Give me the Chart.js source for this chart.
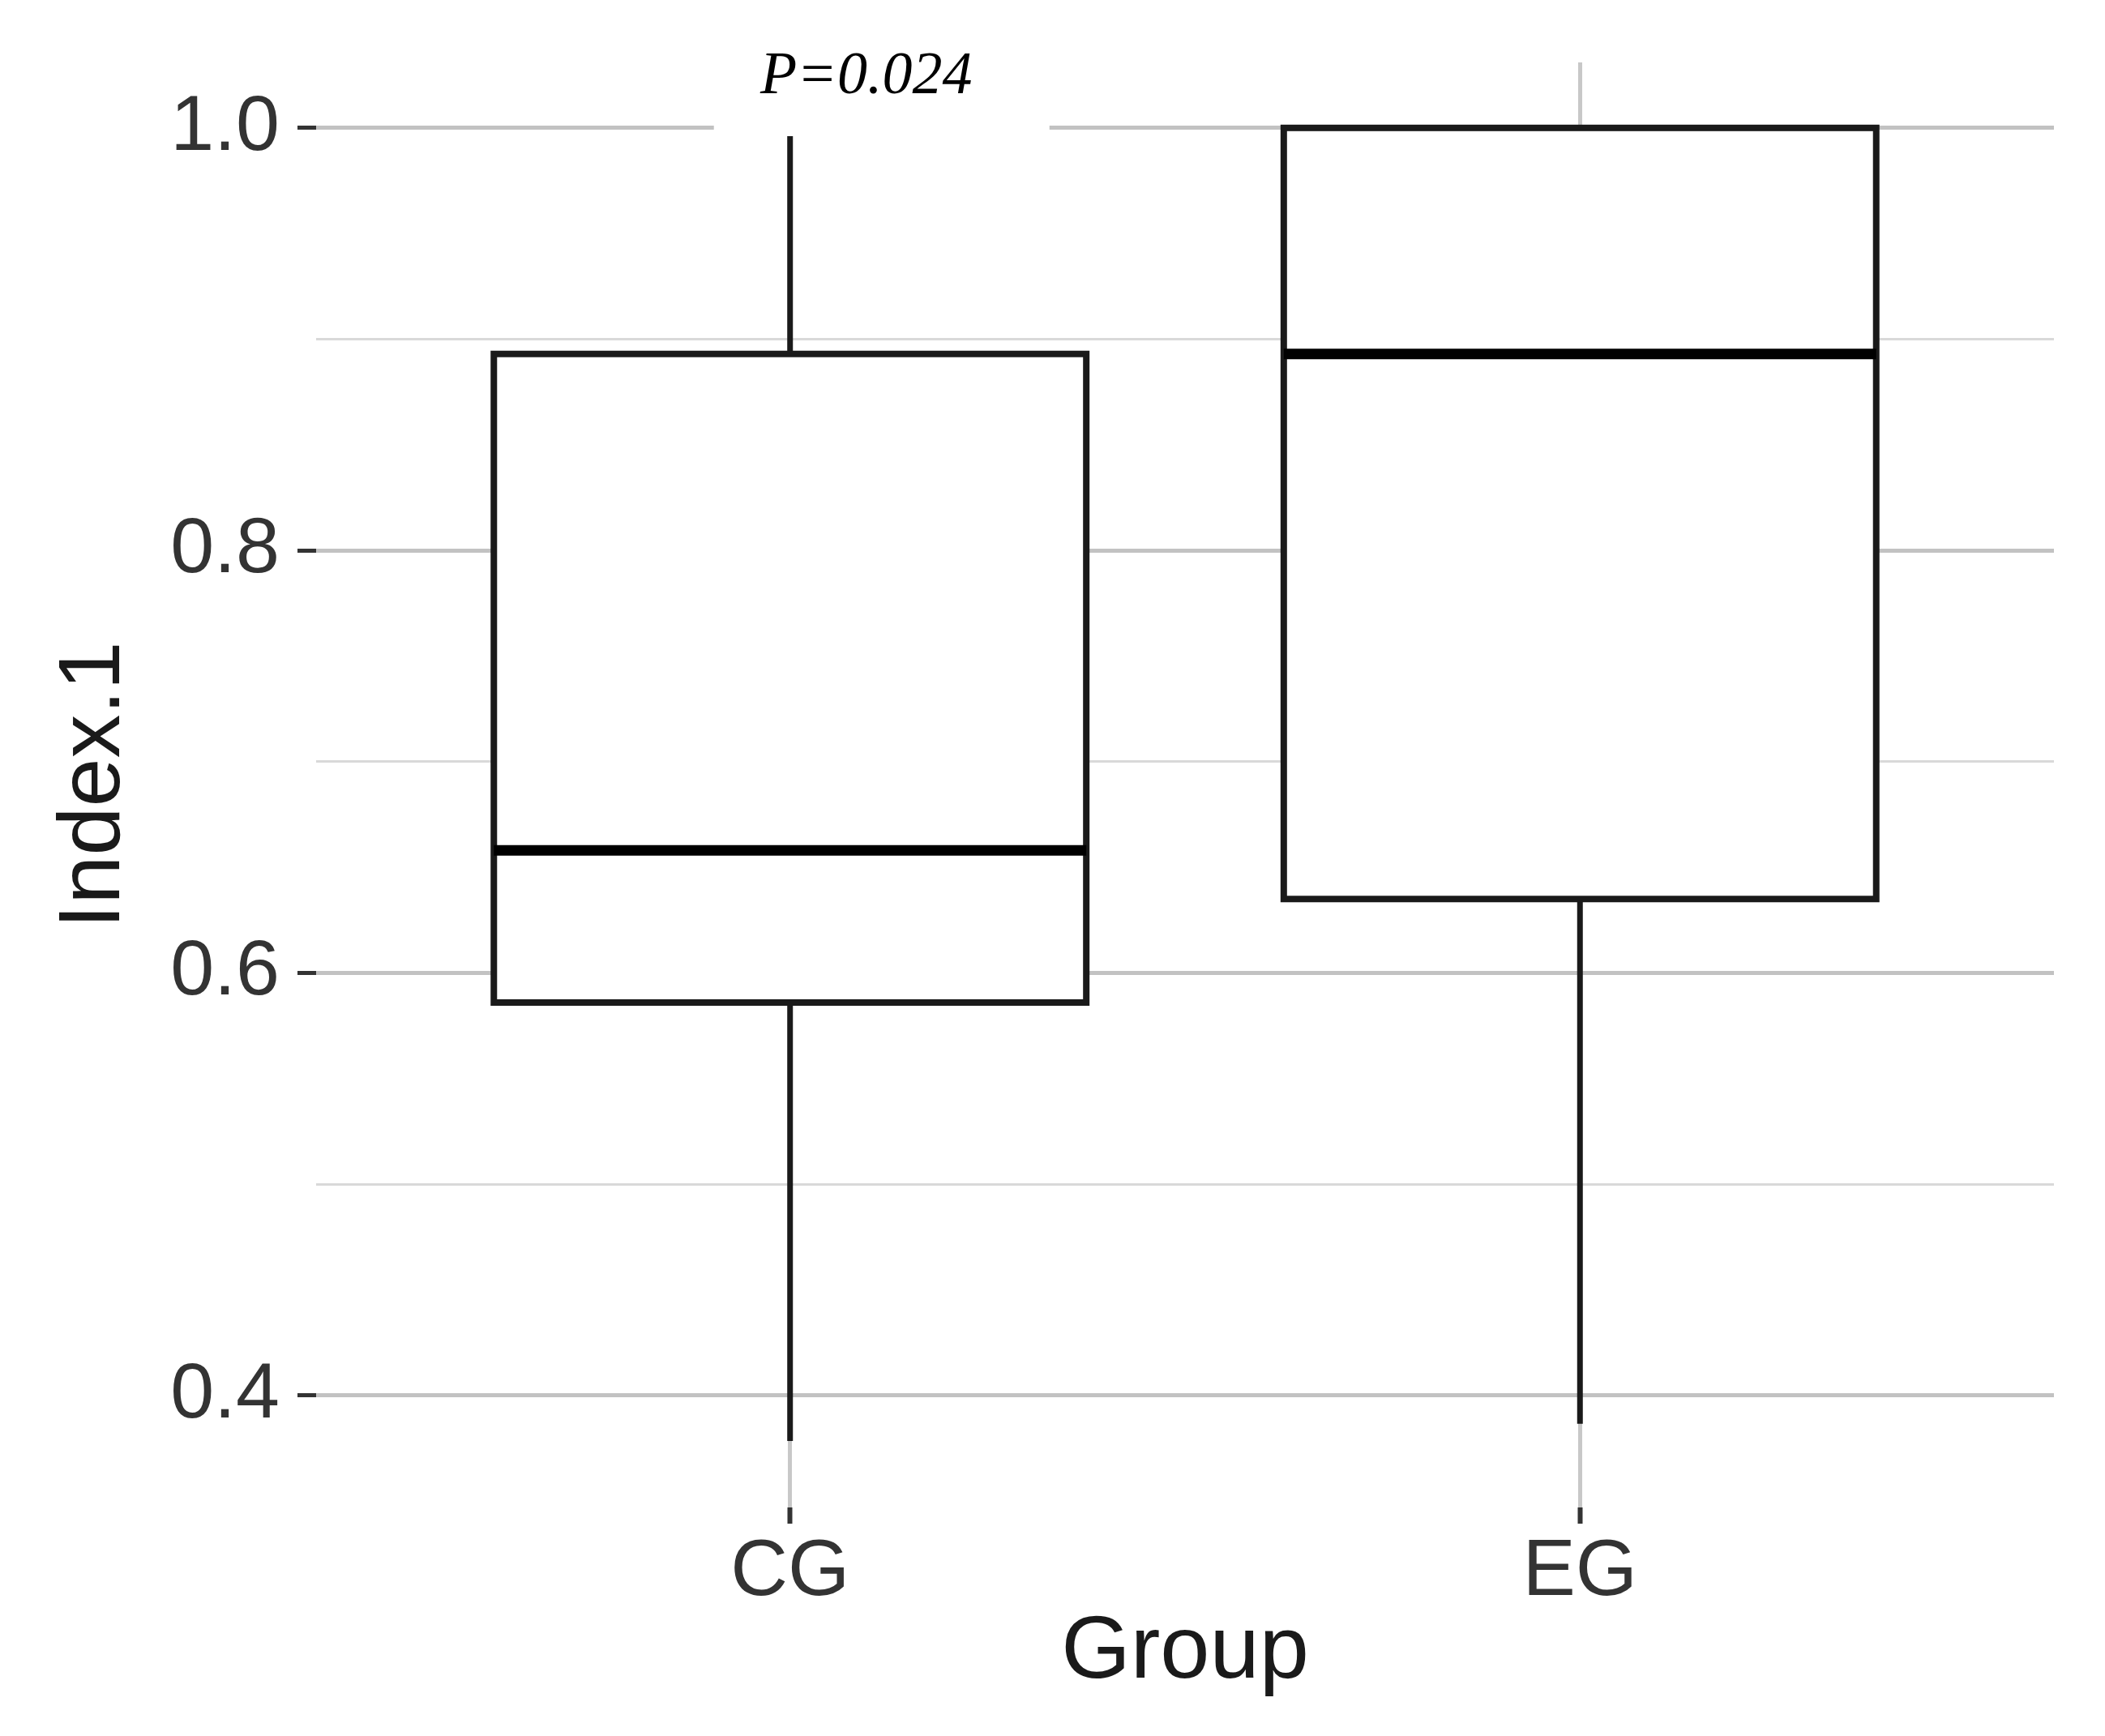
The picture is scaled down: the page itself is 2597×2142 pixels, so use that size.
<!DOCTYPE html>
<html>
<head>
<meta charset="utf-8">
<script src="https://cdn.jsdelivr.net/npm/chart.js@4.4.1/dist/chart.umd.min.js"></script>
<style>
    html, body { margin: 0; padding: 0; background: #ffffff; }
    #wrap { width: 2597px; height: 2142px; }
</style>
</head>
<body>
<div id="wrap"><canvas id="boxChart" width="2597" height="2142"></canvas></div>
<script>
// 数据
const groups = ['CG', 'EG'];
const groupPos = [1, 2];
const whiskerLow = [0.3785, 0.3866];
const boxLow = [0.586, 0.635];
const medians = [0.658, 0.893];
const boxHigh = [0.893, 1.0];
const whiskerHigh = [1.0, 1.0];
const yTickValues = [0.4, 0.5, 0.6, 0.7, 0.8, 0.9, 1.0];
const pLabel = 'P=0.024';

const boxWidth = 0.75; // in category units, like ggplot
const isMajor = v => Math.round(v * 10) % 2 === 0;
const sansFont = '"Liberation Sans", Arial, sans-serif';

// box plot drawn through the chart's scales
const boxPlotPlugin = {
    id: 'boxPlot',
    beforeDatasetsDraw(chart) {
        const { ctx, scales: { x, y } } = chart;
        ctx.save();
        ctx.strokeStyle = '#1a1a1a';
        ctx.lineCap = 'butt';
        groupPos.forEach((g, i) => {
            const cx = x.getPixelForValue(g);
            const left = x.getPixelForValue(g - boxWidth / 2);
            const right = x.getPixelForValue(g + boxWidth / 2);
            const yLo = y.getPixelForValue(boxLow[i]);
            const yHi = y.getPixelForValue(boxHigh[i]);

            // whiskers
            ctx.lineWidth = 7;
            ctx.beginPath();
            ctx.moveTo(cx, y.getPixelForValue(whiskerLow[i]));
            ctx.lineTo(cx, yLo);
            ctx.moveTo(cx, yHi);
            ctx.lineTo(cx, y.getPixelForValue(whiskerHigh[i]));
            ctx.stroke();

            // box
            ctx.lineWidth = 8;
            ctx.fillStyle = '#ffffff';
            ctx.fillRect(left, yHi, right - left, yLo - yHi);
            ctx.strokeRect(left, yHi, right - left, yLo - yHi);

            // median
            ctx.lineWidth = 13;
            ctx.strokeStyle = '#000000';
            ctx.beginPath();
            ctx.moveTo(left, y.getPixelForValue(medians[i]));
            ctx.lineTo(right, y.getPixelForValue(medians[i]));
            ctx.stroke();
            ctx.strokeStyle = '#1a1a1a';
        });
        ctx.restore();
    },
    afterDraw(chart) {
        // P value label on a white patch over the CG whisker top
        const { ctx, scales: { x } } = chart;
        const cx = x.getPixelForValue(groupPos[0]);
        ctx.save();
        ctx.fillStyle = '#ffffff';
        ctx.fillRect(cx - 94, 0, 414, 168);
        ctx.fillStyle = '#000000';
        ctx.font = 'italic 74px "Liberation Serif", "DejaVu Serif", serif';
        ctx.textAlign = 'center';
        ctx.textBaseline = 'alphabetic';
        ctx.fillText(pLabel, cx + 94, 115);
        ctx.restore();
    }
};

const ctx = document.getElementById('boxChart');
new Chart(ctx, {
    type: 'scatter',
    data: {
        datasets: [{
            label: 'median',
            data: groupPos.map((g, i) => ({ x: g, y: medians[i] })),
            pointRadius: 0,
            showLine: false
        }]
    },
    options: {
        responsive: false,
        devicePixelRatio: 1,
        animation: false,
        layout: {
            padding: { left: 0, right: 63, top: 77, bottom: 0 }
        },
        plugins: {
            legend: { display: false },
            tooltip: { enabled: false }
        },
        scales: {
            x: {
                type: 'linear',
                min: 0.4,
                max: 2.6,
                afterBuildTicks: s => { s.ticks = groupPos.map(v => ({ value: v })); },
                afterFit: s => { s.height = 282; s.paddingLeft = 0; s.paddingRight = 0; },
                border: { display: false },
                grid: {
                    color: '#c8c8c8',
                    lineWidth: 5,
                    tickColor: '#333333',
                    tickLength: 20,
                    tickWidth: 6
                },
                ticks: {
                    callback: (v, i) => groups[i],
                    color: '#333333',
                    padding: 2,
                    font: { family: sansFont, size: 98 }
                },
                title: {
                    display: true,
                    text: 'Group',
                    color: '#1a1a1a',
                    padding: { top: 0, bottom: 36 },
                    font: { family: sansFont, size: 110 }
                }
            },
            y: {
                type: 'linear',
                min: 0.347,
                max: 1.031,
                afterBuildTicks: s => { s.ticks = yTickValues.map(v => ({ value: v })); },
                afterFit: s => { s.width = 390; s.paddingTop = 0; s.paddingBottom = 0; },
                border: { display: false },
                grid: {
                    color: c => isMajor(c.tick.value) ? '#c2c2c2' : '#d9d9d9',
                    lineWidth: c => isMajor(c.tick.value) ? 5 : 3,
                    tickColor: c => isMajor(c.tick.value) ? '#333333' : 'rgba(0,0,0,0)',
                    tickLength: 23,
                    tickWidth: 5
                },
                ticks: {
                    callback: v => isMajor(v) ? v.toFixed(1) : '',
                    color: '#333333',
                    padding: 22,
                    font: { family: sansFont, size: 97 }
                },
                title: {
                    display: true,
                    text: 'Index.1',
                    color: '#1a1a1a',
                    padding: { top: 52, bottom: 0 },
                    font: { family: sansFont, size: 108 }
                }
            }
        }
    },
    plugins: [boxPlotPlugin]
});
</script>
</body>
</html>
